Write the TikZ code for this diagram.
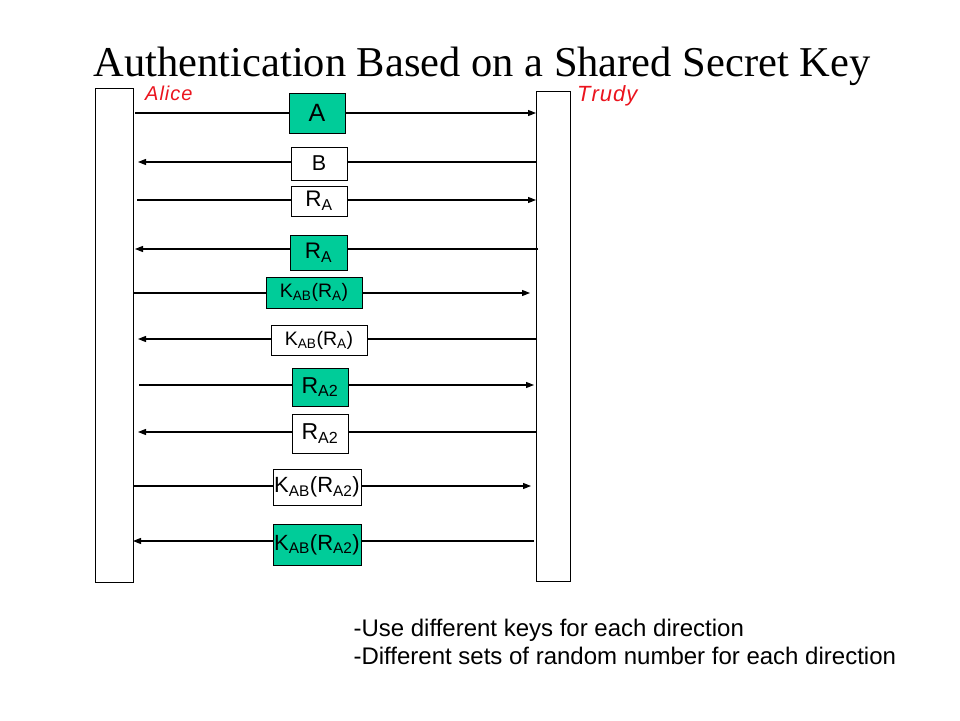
\documentclass[tikz,border=0pt]{standalone}
\usepackage{fontspec}
\setmainfont{Liberation Sans}
\newfontfamily\titlefont{Liberation Serif}
\newfontfamily\handfont{Liberation Sans}
\usetikzlibrary{arrows.meta}
\definecolor{boxgreen}{RGB}{0,204,153}
\definecolor{handred}{RGB}{235,20,30}
\tikzset{
  party/.style={draw=black, line width=0.9pt, fill=white, inner sep=0pt},
  msgbox/.style={draw=black, line width=0.9pt, inner sep=0pt, text=black},
  gbox/.style={msgbox, fill=boxgreen},
  wbox/.style={msgbox, fill=white},
  msg/.style={line width=1.1pt, -{Triangle[length=8pt,width=6pt]}},
  hand/.style={text=handred, inner sep=0pt, font=\handfont\itshape\fontsize{20}{20}\selectfont},
}
\begin{document}
\begin{tikzpicture}[x=1pt,y=-1pt]
\useasboundingbox (0,0) rectangle (960,720);
\fill[white] (0,0) rectangle (960,720);
% title
\node[inner sep=0pt, font=\titlefont\fontsize{42.5}{42.5}\selectfont, anchor=base] (title) at (482,76) {Authentication Based on a Shared Secret Key};
% parties
\node[party, minimum width=38pt, minimum height=494pt] (alice) at (114,335) {};
\node[party, minimum width=34pt, minimum height=490pt] (trudy) at (553,336) {};
\node[hand, anchor=base west] (alabel) at (145,100) {A\kern1pt l\kern1pt i\kern1pt c\kern1pt e};
\node[hand, anchor=base west, font=\handfont\itshape\fontsize{22}{22}\selectfont] (tlabel) at (577,101) {T\kern1pt r\kern1pt u\kern1pt d\kern1pt y};
% end points
\coordinate (l1) at (135,113);  \coordinate (r1) at (536,113);
\coordinate (l2) at (138,162);  \coordinate (r2) at (536,162);
\coordinate (l3) at (137,200);  \coordinate (r3) at (536,200);
\coordinate (l4) at (135,249);  \coordinate (r4) at (538,249);
\coordinate (l5) at (133,293);  \coordinate (r5) at (530,293);
\coordinate (l6) at (138,339);  \coordinate (r6) at (537,339);
\coordinate (l7) at (139,385);  \coordinate (r7) at (534,385);
\coordinate (l8) at (138,432);  \coordinate (r8) at (536,432);
\coordinate (l9) at (133,486);  \coordinate (r9) at (531,486);
\coordinate (l10) at (133,541); \coordinate (r10) at (534,541);
\draw[msg] (l1) -- (r1);
\draw[msg] (r2) -- (l2);
\draw[msg] (l3) -- (r3);
\draw[msg] (r4) -- (l4);
\draw[msg] (l5) -- (r5);
\draw[msg] (r6) -- (l6);
\draw[msg] (l7) -- (r7);
\draw[msg] (r8) -- (l8);
\draw[msg] (l9) -- (r9);
\draw[msg] (r10) -- (l10);
% message boxes
\node[gbox, minimum width=56pt, minimum height=40pt, font=\fontsize{25}{25}\selectfont] (m1) at (317,113) {A};
\node[wbox, minimum width=56pt, minimum height=33pt, font=\fontsize{21.5}{21.5}\selectfont] (m2) at (319,163.5) {B};
\node[wbox, minimum width=56pt, minimum height=30pt, font=\fontsize{22.5}{22.5}\selectfont] (m3) at (319,201) {R\textsubscript{A}};
\node[gbox, minimum width=57pt, minimum height=35pt, font=\fontsize{22.5}{22.5}\selectfont] (m4) at (318.5,252.5) {R\textsubscript{A}};
\node[gbox, minimum width=96pt, minimum height=31pt, font=\fontsize{19.5}{19.5}\selectfont] (m5) at (314,292.5) {K\textsubscript{AB}(R\textsubscript{A})};
\node[wbox, minimum width=96pt, minimum height=30pt, font=\fontsize{19.5}{19.5}\selectfont] (m6) at (319,340) {K\textsubscript{AB}(R\textsubscript{A})};
\node[gbox, minimum width=56pt, minimum height=38pt, font=\fontsize{23}{23}\selectfont] (m7) at (320,387) {R\textsubscript{A2}};
\node[wbox, minimum width=56pt, minimum height=39pt, font=\fontsize{23}{23}\selectfont] (m8) at (320,433.5) {R\textsubscript{A2}};
\node[wbox, minimum width=88pt, minimum height=36pt, font=\fontsize{22}{22}\selectfont] (m9) at (317,487) {K\textsubscript{AB}(R\textsubscript{A2})};
\node[gbox, minimum width=88pt, minimum height=41pt, font=\fontsize{22}{22}\selectfont] (m10) at (317,544.5) {K\textsubscript{AB}(R\textsubscript{A2})};
% notes
\node[anchor=base west, font=\fontsize{24}{24}\selectfont] (n1) at (350,636) {-Use different keys for each direction};
\node[anchor=base west, font=\fontsize{24}{24}\selectfont] (n2) at (350,664) {-Different sets of random number for each direction};
\end{tikzpicture}
\end{document}
